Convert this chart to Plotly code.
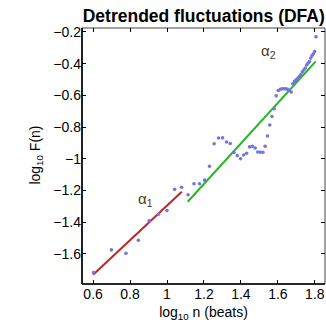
import plotly.graph_objects as go

# log10 n values (n = 4..64 beats)
log_n = [0.602, 0.699, 0.778, 0.845, 0.903, 0.954, 1.000, 1.041, 1.079, 1.114,
         1.146, 1.176, 1.204, 1.230, 1.255, 1.279, 1.301, 1.322, 1.342, 1.362,
         1.380, 1.398, 1.415, 1.431, 1.447, 1.462, 1.477, 1.491, 1.505, 1.519,
         1.531, 1.544, 1.556, 1.568, 1.580, 1.591, 1.602, 1.613, 1.623, 1.633,
         1.643, 1.653, 1.663, 1.672, 1.681, 1.690, 1.699, 1.708, 1.716, 1.724,
         1.732, 1.740, 1.748, 1.756, 1.763, 1.771, 1.778, 1.785, 1.792, 1.799,
         1.806]
log_F = [-1.718, -1.575, -1.596, -1.514, -1.392, -1.350, -1.327, -1.193, -1.180, -1.227,
         -1.158, -1.158, -1.135, -1.047, -0.905, -0.869, -0.868, -0.894, -0.904, -0.960,
         -0.980, -1.000, -0.976, -0.965, -0.925, -0.921, -0.932, -0.957, -0.959, -0.959,
         -0.921, -0.856, -0.787, -0.733, -0.684, -0.603, -0.569, -0.561, -0.558, -0.558,
         -0.559, -0.562, -0.569, -0.579, -0.527, -0.512, -0.502, -0.492, -0.481, -0.470,
         -0.453, -0.440, -0.428, -0.408, -0.397, -0.387, -0.365, -0.349, -0.338, -0.324,
         -0.230]

# fitted lines
alpha1_x = [0.600, 1.080]
alpha1_y = [-1.732, -1.208]
alpha2_x = [1.112, 1.805]
alpha2_y = [-1.271, -0.386]

x_ticks = [0.6, 0.8, 1.0, 1.2, 1.4, 1.6, 1.8]
x_tick_labels = ["0.6", "0.8", "1", "1.2", "1.4", "1.6", "1.8"]
y_ticks = [-1.6, -1.4, -1.2, -1.0, -0.8, -0.6, -0.4, -0.2]
y_tick_labels = ["\u22121.6", "\u22121.4", "\u22121.2", "\u22121", "\u22120.8", "\u22120.6", "\u22120.4", "\u22120.2"]

font = "Liberation Sans, Arial, sans-serif"

fig = go.Figure()
fig.add_trace(go.Scatter(x=alpha1_x, y=alpha1_y, mode="lines",
                         line=dict(color="#c02424", width=2), hoverinfo="skip"))
fig.add_trace(go.Scatter(x=alpha2_x, y=alpha2_y, mode="lines",
                         line=dict(color="#22b822", width=2), hoverinfo="skip"))
fig.add_trace(go.Scatter(x=log_n, y=log_F, mode="markers",
                         marker=dict(color="#7474e2", size=3.6, line=dict(width=0))))

fig.add_annotation(x=0.885, y=-1.255, text="\u03b1<sub>1</sub>", showarrow=False,
                   font=dict(family=font, size=15, color="#4a3a1a"))
fig.add_annotation(x=1.55, y=-0.325, text="\u03b1<sub>2</sub>", showarrow=False,
                   font=dict(family=font, size=15, color="#4a3a1a"))
# y axis title
fig.add_annotation(xref="paper", yref="paper", x=-0.235, y=0.505, textangle=-90,
                   text="log<sub>10</sub> F(n)", showarrow=False,
                   font=dict(family=font, size=14, color="black"))

# frame: thin top/right, heavier left/bottom
fig.add_shape(type="rect", xref="paper", yref="paper", x0=0, x1=1, y0=0, y1=1,
              line=dict(color="#444444", width=1), layer="below")
fig.add_shape(type="line", xref="paper", yref="paper", x0=0, x1=0, y0=0, y1=1,
              line=dict(color="black", width=1.6))
fig.add_shape(type="line", xref="paper", yref="paper", x0=0, x1=1, y0=0, y1=0,
              line=dict(color="black", width=1.6))

axis_common = dict(showgrid=False, zeroline=False, showline=False,
                   mirror="allticks", ticks="inside", ticklen=4,
                   tickcolor="black", tickfont=dict(family=font, size=14, color="black"))

fig.update_layout(
    width=326, height=333,
    margin=dict(l=82, r=1, t=28, b=49),
    paper_bgcolor="white", plot_bgcolor="white",
    showlegend=False,
    title=dict(text="<b>Detrended fluctuations (DFA)</b>", x=0.625, xanchor="center",
               y=0.953, yanchor="middle",
               font=dict(family=font, size=17.5, color="black")),
    xaxis=dict(range=[0.54, 1.855], tickvals=x_ticks, ticktext=x_tick_labels,
               title=dict(text="log<sub>10</sub> n (beats)", standoff=6,
                          font=dict(family=font, size=14, color="black")),
               **axis_common),
    yaxis=dict(range=[-1.79, -0.175], tickvals=y_ticks, ticktext=y_tick_labels,
               **axis_common),
)

fig.write_html("out.html")
